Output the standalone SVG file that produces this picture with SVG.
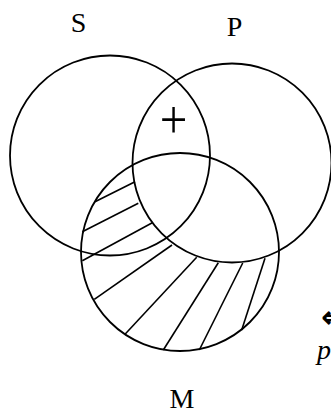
<svg xmlns="http://www.w3.org/2000/svg" width="331" height="412" viewBox="0 0 331 412">
<style>
.c{fill:none;stroke:#000;stroke-width:1.8}
.h{stroke:#000;stroke-width:1.6;fill:none}
.t{font-family:"Liberation Serif","Times New Roman",serif;font-size:28px;fill:#000}
.pl{font-size:49px}
.ar{font-family:"DejaVu Sans",sans-serif;font-size:32px;font-weight:bold}
</style>
<rect width="331" height="412" fill="#fff"/>
<g id="S"><circle class="c" cx="110" cy="155.5" r="100"/><text class="t" x="78.5" y="32" text-anchor="middle">S</text></g>
<g id="P"><circle class="c" cx="232" cy="163" r="99.5"/><text class="t" x="234.5" y="35.5" text-anchor="middle">P</text></g>
<g id="M"><circle class="c" cx="180" cy="252" r="99"/><text class="t" x="182" y="408" text-anchor="middle">M</text></g>
<g id="mark"><text class="t pl" x="173.5" y="0" text-anchor="middle" transform="translate(0,137.5) scale(1,1.14)">+</text></g>
<g id="connectors">
<line class="h" x1="95" y1="201.7" x2="135" y2="181.7"/>
<line class="h" x1="82.3" y1="231.7" x2="138.3" y2="203.3"/>
<line class="h" x1="82.3" y1="260.7" x2="152.3" y2="222.7"/>
<line class="h" x1="94.3" y1="299.3" x2="172" y2="245"/>
<line class="h" x1="125" y1="334.3" x2="196.7" y2="257.3"/>
<line class="h" x1="163.3" y1="350" x2="218.3" y2="262.8"/>
<line class="h" x1="199.3" y1="350" x2="242.7" y2="263"/>
<line class="h" x1="241.7" y1="330" x2="265" y2="258.3"/>
</g>
<g id="cut"><text class="t ar" x="321" y="328">⇐</text><text class="t" x="317" y="359" font-style="italic">p</text></g>
</svg>
